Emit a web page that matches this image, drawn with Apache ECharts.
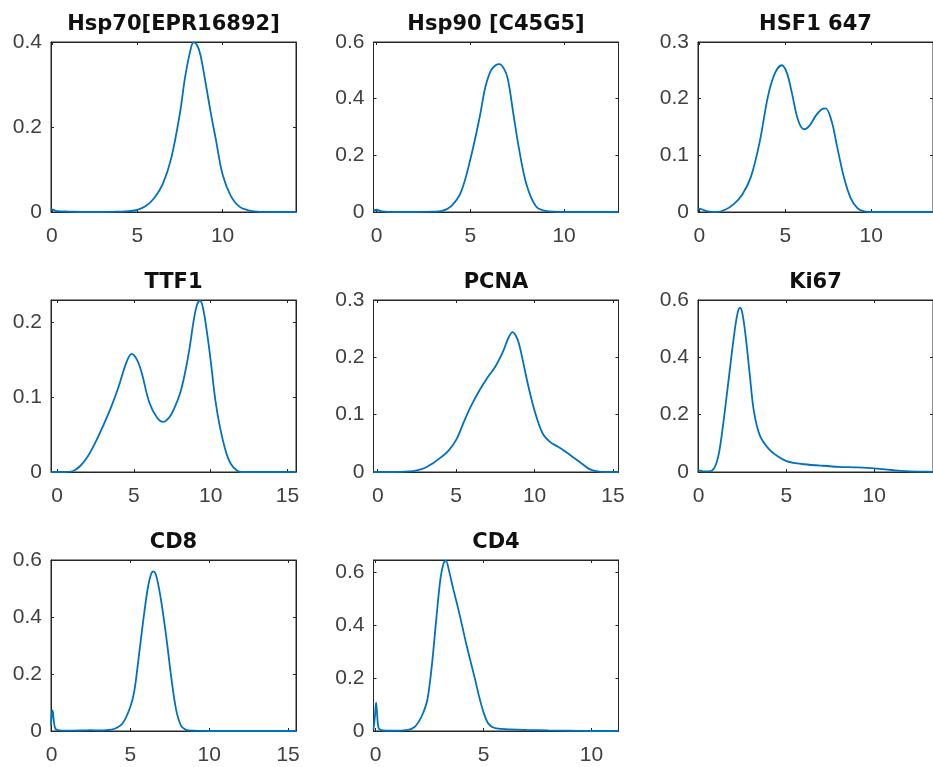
<!DOCTYPE html>
<html><head><meta charset="utf-8">
<script src="https://cdn.jsdelivr.net/npm/echarts@6/dist/echarts.min.js"></script>
<style>html,body{margin:0;padding:0;background:#fff;overflow:hidden}#c{width:933px;height:767px}</style>
</head><body><div id="c"></div>
<script>
// ---- data ----
const titles = ['Hsp70[EPR16892]', 'Hsp90 [C45G5]', 'HSF1 647', 'TTF1', 'PCNA', 'Ki67', 'CD8', 'CD4'];

const hsp70X = [-0.05, 0, 0.3, 1, 2, 3, 4, 4.5, 5, 5.5, 6, 6.5, 7, 7.5, 7.8, 8.1, 8.3, 8.5, 8.7, 9, 9.3, 9.6, 10, 10.5, 11, 11.5, 12, 13, 14.3];
const hsp70Y = [0.004, 0.006, 0.002, 0.001, 0, 0, 0.001, 0.002, 0.005, 0.014, 0.033, 0.066, 0.128, 0.232, 0.316, 0.378, 0.399, 0.393, 0.37, 0.305, 0.235, 0.172, 0.088, 0.036, 0.012, 0.004, 0.001, 0, 0];

const hsp90X = [-0.16, 0, 0.3, 1, 2, 3, 3.5, 4, 4.5, 5, 5.5, 5.8, 6.1, 6.35, 6.55, 6.8, 7.0, 7.3, 7.6, 8, 8.5, 9, 10, 12.9];
const hsp90Y = [0.005, 0.008, 0.002, 0, 0, 0.001, 0.004, 0.022, 0.07, 0.185, 0.335, 0.44, 0.5, 0.518, 0.522, 0.505, 0.47, 0.345, 0.222, 0.096, 0.02, 0.004, 0, 0];

const hsf1X = [-0.08, 0, 0.2, 0.5, 1, 1.5, 2, 2.5, 3, 3.5, 4, 4.4, 4.8, 5.1, 5.4, 5.75, 6.1, 6.4, 6.8, 7.1, 7.35, 7.7, 8.0, 8.4, 8.8, 9.2, 9.6, 10, 13.6];
const hsf1Y = [0.004, 0.006, 0.004, 0.001, 0, 0.004, 0.014, 0.031, 0.062, 0.122, 0.205, 0.245, 0.259, 0.245, 0.208, 0.162, 0.146, 0.152, 0.171, 0.181, 0.183, 0.16, 0.118, 0.063, 0.025, 0.007, 0.001, 0, 0];

const ttf1X = [-0.4, 0, 0.5, 1, 1.5, 2, 2.5, 3, 3.5, 4, 4.5, 4.85, 5.2, 5.5, 6, 6.5, 6.9, 7.3, 7.6, 8, 8.3, 8.6, 8.9, 9.1, 9.3, 9.5, 9.8, 10, 10.3, 10.6, 11, 11.3, 11.7, 12, 15.55];
const ttf1Y = [0, 0, 0, 0.001, 0.008, 0.021, 0.04, 0.062, 0.086, 0.114, 0.146, 0.158, 0.15, 0.133, 0.093, 0.073, 0.067, 0.073, 0.084, 0.105, 0.13, 0.163, 0.204, 0.223, 0.229, 0.219, 0.18, 0.148, 0.096, 0.06, 0.026, 0.011, 0.002, 0, 0];

const pcnaX = [-0.27, 0, 1, 2, 2.5, 3, 3.5, 4, 4.5, 5, 5.5, 6, 6.5, 7, 7.5, 8, 8.3, 8.6, 8.8, 9, 9.3, 9.6, 10, 10.5, 11, 11.5, 12, 12.5, 13, 13.5, 14, 14.5, 15.35];
const pcnaY = [0, 0, 0, 0.001, 0.003, 0.007, 0.015, 0.025, 0.037, 0.056, 0.088, 0.118, 0.143, 0.165, 0.184, 0.211, 0.232, 0.244, 0.238, 0.224, 0.188, 0.15, 0.107, 0.068, 0.052, 0.044, 0.035, 0.025, 0.015, 0.005, 0.001, 0, 0];

const ki67X = [-0.04, 0, 0.3, 0.6, 0.9, 1.15, 1.4, 1.7, 2.0, 2.2, 2.35, 2.5, 2.7, 2.9, 3.15, 3.5, 4, 4.5, 5, 5.5, 6, 7, 8, 9, 10, 10.5, 11, 11.5, 12, 13, 13.35];
const ki67Y = [0.005, 0.006, 0.002, 0.002, 0.015, 0.065, 0.17, 0.32, 0.47, 0.55, 0.573, 0.55, 0.46, 0.345, 0.21, 0.125, 0.08, 0.055, 0.038, 0.031, 0.027, 0.022, 0.018, 0.016, 0.013, 0.01, 0.007, 0.004, 0.002, 0.001, 0];

const cd8X = [-0.03, 0.03, 0.07, 0.15, 0.25, 0.5, 1, 2, 2.5, 3, 3.5, 4, 4.5, 5, 5.25, 5.5, 5.8, 6.1, 6.3, 6.45, 6.6, 6.8, 7, 7.3, 7.6, 7.9, 8.2, 8.5, 9, 10, 15.5];
const cd8Y = [0.02, 0.065, 0.072, 0.035, 0.008, 0.002, 0.001, 0.002, 0.003, 0.002, 0.003, 0.008, 0.026, 0.085, 0.14, 0.245, 0.38, 0.5, 0.548, 0.56, 0.552, 0.505, 0.44, 0.32, 0.185, 0.075, 0.02, 0.005, 0.001, 0, 0];

const cd4X = [-0.1, -0.03, 0.02, 0.07, 0.13, 0.25, 0.5, 1, 1.5, 1.8, 2.0, 2.2, 2.4, 2.6, 2.8, 3.0, 3.15, 3.25, 3.4, 3.6, 3.8, 4.0, 4.2, 4.4, 4.6, 4.8, 5.0, 5.2, 5.4, 5.6, 6, 7, 8, 9, 10, 11.25];
const cd4Y = [0.005, 0.06, 0.107, 0.06, 0.012, 0.003, 0.001, 0.001, 0.004, 0.015, 0.036, 0.068, 0.12, 0.245, 0.415, 0.575, 0.635, 0.644, 0.605, 0.535, 0.47, 0.4, 0.328, 0.262, 0.197, 0.128, 0.07, 0.03, 0.015, 0.01, 0.007, 0.004, 0.002, 0.001, 0, 0];

const xLimits = [[-0.05, 14.3], [-0.16, 12.9], [-0.08, 13.6], [-0.4, 15.55], [-0.27, 15.35], [-0.04, 13.35], [-0.03, 15.5], [-0.1, 11.25]];
const yLimits = [[0, 0.4], [0, 0.6], [0, 0.3], [0, 0.23], [0, 0.3], [0, 0.6], [0, 0.6], [0, 0.646]];
const xTicks = [[0, 5, 10], [0, 5, 10], [0, 5, 10], [0, 5, 10, 15], [0, 5, 10, 15], [0, 5, 10], [0, 5, 10, 15], [0, 5, 10]];
const yTicks = [[0, 0.2, 0.4], [0, 0.2, 0.4, 0.6], [0, 0.1, 0.2, 0.3], [0, 0.1, 0.2], [0, 0.1, 0.2, 0.3], [0, 0.2, 0.4, 0.6], [0, 0.2, 0.4, 0.6], [0, 0.2, 0.4, 0.6]];

const seriesX = [hsp70X, hsp90X, hsf1X, ttf1X, pcnaX, ki67X, cd8X, cd4X];
const seriesY = [hsp70Y, hsp90Y, hsf1Y, ttf1Y, pcnaY, ki67Y, cd8Y, cd4Y];

// ---- layout ----
const colLeft = [51, 373.5, 698];
const rowTop = [42, 300, 560];
const rowH = [170, 172, 171];
const W = 245;
const axisColor = '#262626';
const labelFont = { fontFamily: '"Liberation Sans", Arial, sans-serif', fontSize: 21, color: '#404040' };

const option = { animation: false, backgroundColor: '#fff', grid: [], xAxis: [], yAxis: [], series: [] };

titles.forEach((t, i) => {
  const r = Math.floor(i / 3), c = i % 3;
  option.grid.push({ left: colLeft[c], top: rowTop[r], width: W, height: rowH[r],
    show: true, borderColor: axisColor, borderWidth: 1, backgroundColor: 'transparent' });
  const line = { show: true, onZero: false, lineStyle: { color: axisColor, width: 1 } };
  const tick = vals => ({ show: true, inside: true, length: 3, customValues: vals, lineStyle: { color: axisColor, width: 1 } });
  const common = { type: 'value', gridIndex: i, splitLine: { show: false }, axisLine: line };
  option.xAxis.push(Object.assign({}, common, {
    position: 'bottom', min: xLimits[i][0], max: xLimits[i][1],
    axisTick: tick(xTicks[i]),
    axisLabel: Object.assign({ customValues: xTicks[i], margin: 14 }, labelFont)
  }));
  option.xAxis.push(Object.assign({}, common, {
    position: 'top', min: xLimits[i][0], max: xLimits[i][1],
    axisTick: tick(xTicks[i]), axisLabel: { show: false },
    name: t, nameLocation: 'middle', nameGap: 17,
    nameTextStyle: { fontFamily: '"DejaVu Sans", sans-serif', fontWeight: 'bold', fontSize: 21, color: '#111', verticalAlign: 'middle' }
  }));
  option.yAxis.push(Object.assign({}, common, {
    position: 'left', min: yLimits[i][0], max: yLimits[i][1],
    axisTick: tick(yTicks[i]),
    axisLabel: Object.assign({ customValues: yTicks[i], margin: 9 }, labelFont)
  }));
  option.yAxis.push(Object.assign({}, common, {
    position: 'right', min: yLimits[i][0], max: yLimits[i][1],
    axisTick: tick(yTicks[i]), axisLabel: { show: false }
  }));
  option.series.push({
    type: 'line', xAxisIndex: 2 * i, yAxisIndex: 2 * i,
    data: seriesX[i].map((x, k) => [x, seriesY[i][k]]),
    showSymbol: false, smooth: 0.35, clip: true,
    lineStyle: { color: '#0072BD', width: 1.8 }
  });
});

const chart = echarts.init(document.getElementById('c'), null, { renderer: 'canvas' });
chart.setOption(option);
</script>
</body></html>
